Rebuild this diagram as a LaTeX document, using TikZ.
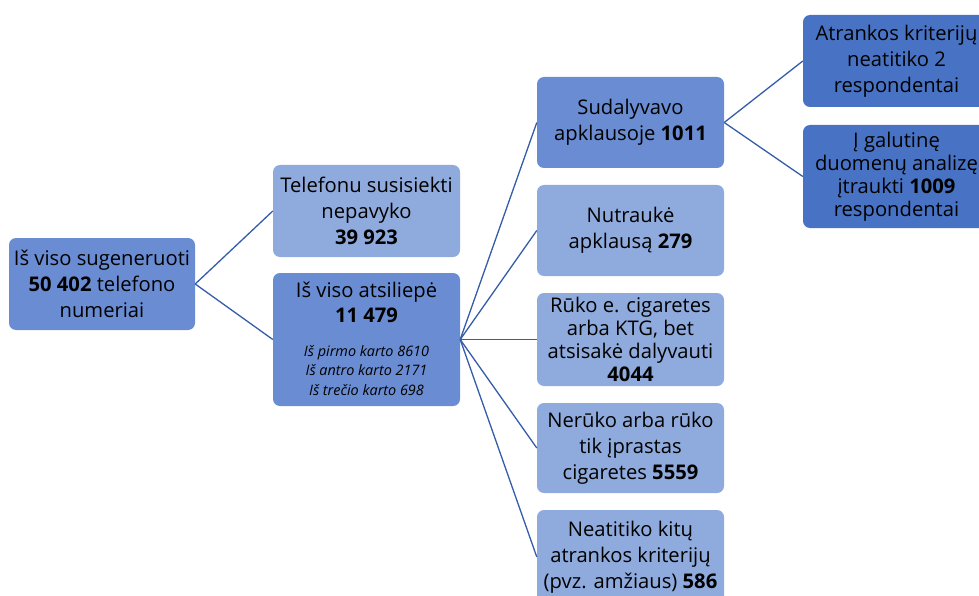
\documentclass[tikz,border=0pt]{standalone}
\usepackage{fontspec}
\setmainfont{Open Sans}
\begin{document}
\begin{tikzpicture}[x=1pt,y=-1pt,
  box/.style={rounded corners=7pt, inner sep=0pt, minimum width=187pt, align=center,
    font=\fontsize{20.2}{26}\selectfont, text=black},
  mid/.style={box, fill=midblue},
  light/.style={box, fill=lightblue},
  dark/.style={box, fill=darkblue},
  tight/.style={font=\fontsize{20.2}{23}\selectfont},
  link/.style={draw=linkblue, line width=1.3pt}]
\definecolor{midblue}{RGB}{106,140,210}
\definecolor{lightblue}{RGB}{143,170,220}
\definecolor{darkblue}{RGB}{72,115,196}
\definecolor{linkblue}{RGB}{52,92,170}
\useasboundingbox (0,0) rectangle (979,596);
\begin{scope}
\clip (0,0) rectangle (979,596);
\node[mid, minimum width=186pt, minimum height=92pt] (A) at (102,284) {Iš viso sugeneruoti\\\textbf{50 402} telefono\\numeriai};
\node[light, minimum height=92pt] (B) at (366.5,211) {Telefonu susisiekti\\nepavyko\\\textbf{39 923}};
\node[mid, minimum height=133pt] (C) at (366.5,339.5) {};
\node[align=center, font=\fontsize{20.2}{25}\selectfont, anchor=north, inner sep=0pt] (Ct) at (366.5,282) {Iš viso atsiliepė\\\textbf{11 479}};
\node[align=center, font=\fontsize{14.4}{19.5}\selectfont\itshape, anchor=north, inner sep=0pt] (Ci) at (366.5,345) {Iš pirmo karto 8610\\Iš antro karto 2171\\Iš trečio karto 698};
\node[mid, minimum height=91pt] (D) at (630.5,122.5) {Sudalyvavo\\apklausoje \textbf{1011}};
\node[light, minimum height=91pt] (E) at (630.5,230.5) {Nutraukė\\apklausą \textbf{279}};
\node[light, tight, minimum height=93pt] (F) at (630.5,339.5) {Rūko e. cigaretes\\arba KTG, bet\\atsisakė dalyvauti\\\textbf{4044}};
\node[light, minimum height=90pt] (G) at (630.5,448) {Nerūko arba rūko\\tik įprastas\\cigaretes \textbf{5559}};
\node[light, minimum height=94pt] (H) at (630.5,557) {Neatitiko kitų\\atrankos kriterijų\\(pvz. amžiaus) \textbf{586}};
\node[dark, minimum height=92pt] (I) at (896.5,61) {Atrankos kriterijų\\neatitiko 2\\respondentai};
\node[dark, tight, minimum height=103pt] (J) at (896.5,176.5) {Į galutinę\\duomenų analizę\\įtraukti \textbf{1009}\\respondentai};
\draw[link] (A.east) -- (B.west);
\draw[link] (A.east) -- (C.west);
\foreach \n in {D,E,F,G,H} \draw[link] (C.east) -- (\n.west);
\draw[link] (D.east) -- (I.west);
\draw[link] (D.east) -- (J.west);
\end{scope}
\end{tikzpicture}
\end{document}
